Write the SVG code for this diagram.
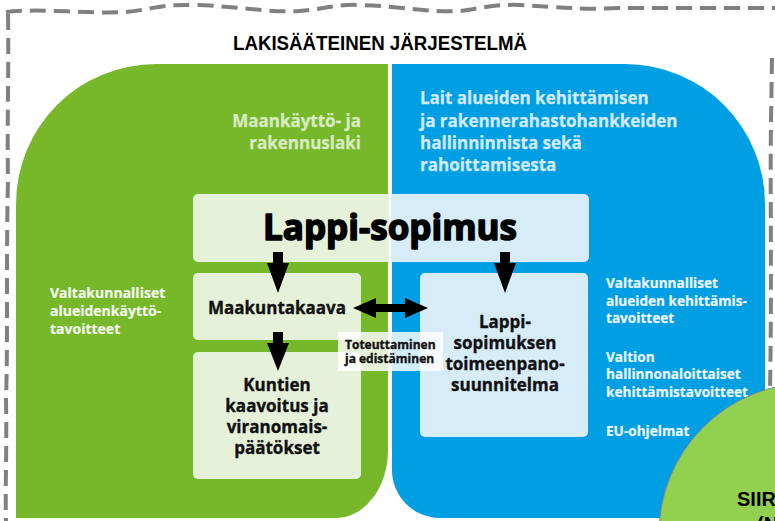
<svg xmlns="http://www.w3.org/2000/svg" width="775" height="521" viewBox="0 0 775 521">
<style>
  .t { font-family: "Open Sans", "Liberation Sans", sans-serif; font-weight: 700; }
  .blk { fill: #111111; stroke: #111111; stroke-width: 0.35; }
  .hdrG { fill: #d9ebc4; font-size: 17px; stroke: #d9ebc4; stroke-width: 0.25; }
  .hdrB { fill: #d2eafa; font-size: 17px; stroke: #d2eafa; stroke-width: 0.25; }
  .side { fill: #f3f8ee; font-size: 14px; stroke: #f3f8ee; stroke-width: 0.2; }
  .sideB { fill: #eef8fe; font-size: 13.6px; stroke: #eef8fe; stroke-width: 0.2; }
  .box { font-size: 17px; }
  .arrow { fill: #000000; }
  .border { fill: none; stroke: #808080; stroke-width: 4; stroke-dasharray: 16 8; }
</style>
<rect x="0" y="0" width="775" height="521" fill="#ffffff"/>

<g id="frame">
  <path class="border" d="M 6 12 C 40 8, 90 14, 125 12 C 150 10, 160 4, 195 5 C 235 6, 270 13, 300 11 C 325 9, 335 4, 360 5 C 400 6, 430 13, 460 11 C 480 9, 490 4, 520 5 C 560 7, 580 10, 620 8 L 775 8"/>
  <path class="border" d="M 8 14 C 9 60, 7 120, 8 180 C 6 260, 8 340, 6 400 C 7 450, 5 490, 6 521"/>
  <path class="border" d="M 772 58 L 771 120 C 770 200, 772 280, 770 390"/>
</g>

<g id="title">
  <text x="380" y="50" font-size="21" font-weight="700" text-anchor="middle" textLength="294" lengthAdjust="spacingAndGlyphs" fill="#000000" font-family="Liberation Sans, sans-serif">LAKISÄÄTEINEN JÄRJESTELMÄ</text>
</g>

<g id="green-area">
  <path d="M 16 204 A 140 140 0 0 1 156 64 L 388 64 L 388 450 A 52 68 0 0 1 336 518 L 16 518 Z" fill="#76b82a"/>
  <text class="t hdrG" text-anchor="end"><tspan x="361" y="127">Maankäyttö- ja</tspan><tspan x="361" y="149">rakennuslaki</tspan></text>
  <text class="t side"><tspan x="50" y="298">Valtakunnalliset</tspan><tspan x="50" y="316">alueidenkäyttö-</tspan><tspan x="50" y="334">tavoitteet</tspan></text>
</g>

<g id="blue-area">
  <path d="M 392 64 L 625 64 A 140 140 0 0 1 765 204 L 765 518 L 440 518 A 48 48 0 0 1 392 470 Z" fill="#009fe3"/>
  <text class="t hdrB"><tspan x="420" y="104">Lait alueiden kehittämisen</tspan><tspan x="420" y="127">ja rakennerahastohankkeiden</tspan><tspan x="420" y="149">hallinninnista sekä</tspan><tspan x="420" y="171">rahoittamisesta</tspan></text>
  <text class="t sideB"><tspan x="606" y="288">Valtakunnalliset</tspan><tspan x="606" y="306">alueiden kehittämis-</tspan><tspan x="606" y="323">tavoitteet</tspan><tspan x="606" y="362">Valtion</tspan><tspan x="606" y="379">hallinnonaloittaiset</tspan><tspan x="606" y="397">kehittämistavoitteet</tspan><tspan x="606" y="436">EU-ohjelmat</tspan></text>
</g>

<g id="siirtyma">
  <circle cx="810" cy="534" r="151" fill="#92d050" stroke="#8a8a8a" stroke-width="1"/>
  <text x="737" y="506" font-size="20" fill="#000000" font-family="Liberation Sans, sans-serif" font-weight="700">SIIRT</text>
  <text x="757" y="531" font-size="20" fill="#000000" font-family="Liberation Sans, sans-serif" font-weight="700">(N</text>
</g>

<g id="lappi-sopimus">
  <path d="M 198 194 H 389 V 262 H 198 A 5 5 0 0 1 193 257 V 199 A 5 5 0 0 1 198 194 Z" fill="#e6f1da"/>
  <path d="M 391 194 H 584 A 5 5 0 0 1 589 199 V 257 A 5 5 0 0 1 584 262 H 391 Z" fill="#d7ecf9"/>
  <text class="t" x="390" y="240" font-size="36" fill="#000000" stroke="#000000" stroke-width="1.6" stroke-linejoin="round" text-anchor="middle" textLength="254" lengthAdjust="spacingAndGlyphs">Lappi-sopimus</text>
</g>

<g id="maakuntakaava">
  <rect x="193" y="273" width="168" height="67" rx="5" fill="#e6f1da"/>
  <text class="t blk box" x="277" y="314" text-anchor="middle">Maakuntakaava</text>
</g>

<g id="kuntien-kaavoitus">
  <rect x="193" y="352" width="168" height="127" rx="5" fill="#e6f1da"/>
  <text class="t blk box" text-anchor="middle"><tspan x="277" y="391">Kuntien</tspan><tspan x="277" y="412">kaavoitus ja</tspan><tspan x="277" y="433">viranomais-</tspan><tspan x="277" y="454">päätökset</tspan></text>
</g>

<g id="toimeenpanosuunnitelma">
  <rect x="420" y="273" width="168" height="164" rx="5" fill="#d7ecf9"/>
  <text class="t blk box" text-anchor="middle"><tspan x="505" y="328">Lappi-</tspan><tspan x="505" y="349">sopimuksen</tspan><tspan x="505" y="370">toimeenpano-</tspan><tspan x="505" y="391">suunnitelma</tspan></text>
</g>

<g id="connectors">
  <polygon class="arrow" points="273,252 283,252 283,263 289,263 278,293 267,263 273,263"/>
  <polygon class="arrow" points="273,332 283,332 283,343 289,343 278,371 267,343 273,343"/>
  <polygon class="arrow" points="500,252 510,252 510,263 516,263 505,293 494,263 500,263"/>
  <polygon class="arrow" points="353,308 376,298 376,304 405,304 405,298 428,308 405,318 405,312 376,312 376,318"/>
  <g id="connector-label">
    <rect x="338" y="332" width="105" height="39" fill="#ffffff" fill-opacity="0.82"/>
    <text class="t blk" font-size="12" stroke-width="0.25"><tspan x="345" y="349">Toteuttaminen</tspan><tspan x="345" y="363">ja edistäminen</tspan></text>
  </g>
</g>
</svg>
